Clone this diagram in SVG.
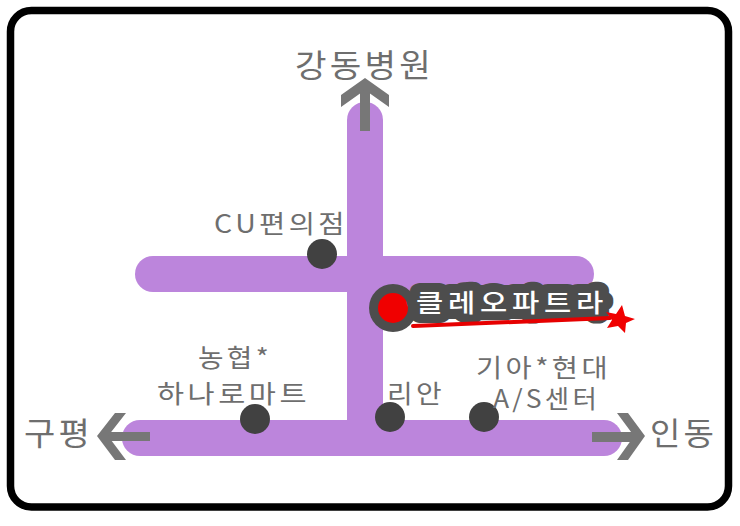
<svg xmlns="http://www.w3.org/2000/svg" width="740" height="526" viewBox="0 0 740 526">
<style>
.road{fill:none;stroke:#bc85dc;stroke-width:36;stroke-linecap:round}
.arr{fill:#777}
.dot{fill:#414141}
text{font-family:"Noto Sans CJK KR","Noto Sans",sans-serif;fill:#6e6e6e;font-weight:400;font-size:25px;letter-spacing:3px}
.b{font-size:32px}
.w{font-size:25px;letter-spacing:4px;fill:#fff;font-weight:500;stroke:#4d4d4d;stroke-width:18px;stroke-linejoin:round;paint-order:stroke}
</style>
<rect x="0" y="0" width="740" height="526" fill="#fff"/>
<rect id="frame" x="10.5" y="10.5" width="718" height="496.5" rx="21" fill="#fff" stroke="#000" stroke-width="7.5"/>
<g id="connectors">
<path class="road" d="M365 120V438"/>
<path class="road" d="M153 274H576"/>
<path class="road" d="M140 438H604"/>
<path class="arr" d="M360 131V86H370V131Z"/>
<path class="arr" d="M341 107V95L365 78L389 95V107L365 90Z"/>
<path class="arr" d="M150 432V441H104V432Z"/>
<path class="arr" d="M126 413H115L97 436L115 460H126L108 436Z"/>
<path class="arr" d="M592 432V442H638V432Z"/>
<path class="arr" d="M617 413H628L645 436L628 460H617L634 436Z"/>
</g>
<g id="hospital"><text class="b" x="295" y="77" textLength="139" lengthAdjust="spacingAndGlyphs">강동병원</text></g>
<g id="cu"><circle class="dot" cx="322" cy="254" r="15"/><text x="214" y="233" textLength="134" lengthAdjust="spacingAndGlyphs">CU편의점</text></g>
<g id="nonghyup"><circle class="dot" cx="255" cy="419" r="15"/><text x="198" y="367" textLength="74" lengthAdjust="spacingAndGlyphs">농협*</text><text x="157" y="403" textLength="153" lengthAdjust="spacingAndGlyphs">하나로마트</text></g>
<g id="rian"><circle class="dot" cx="390" cy="417" r="15"/><text x="387" y="403" textLength="58" lengthAdjust="spacingAndGlyphs">리안</text></g>
<g id="kia"><circle class="dot" cx="484" cy="417" r="15"/><text x="476" y="377" textLength="135" lengthAdjust="spacingAndGlyphs">기아*현대</text><text x="493" y="408" textLength="107" lengthAdjust="spacingAndGlyphs">A/S센터</text></g>
<g id="gupyeong"><text class="b" x="24" y="445" textLength="69" lengthAdjust="spacingAndGlyphs">구평</text></g>
<g id="indong"><text class="b" x="650" y="445" textLength="67" lengthAdjust="spacingAndGlyphs">인동</text></g>
<g id="cleopatra">
<circle cx="393" cy="308" r="24" fill="#4d4d4d"/>
<circle cx="393" cy="308" r="15" fill="#f00000"/>
<rect x="414" y="285" width="192" height="34" rx="14" fill="#4d4d4d"/>
<text class="w" x="416" y="312" textLength="192" lengthAdjust="spacingAndGlyphs">클레오파트라</text>
<path d="M413 326L610 318" fill="none" stroke="#e60000" stroke-width="4" stroke-linecap="round"/>
<polygon points="622,305 625,316 635,319 626,323 625,333 618,326 607,328 612,320 606,312 616,314" fill="#f00000"/>
</g>
</svg>
